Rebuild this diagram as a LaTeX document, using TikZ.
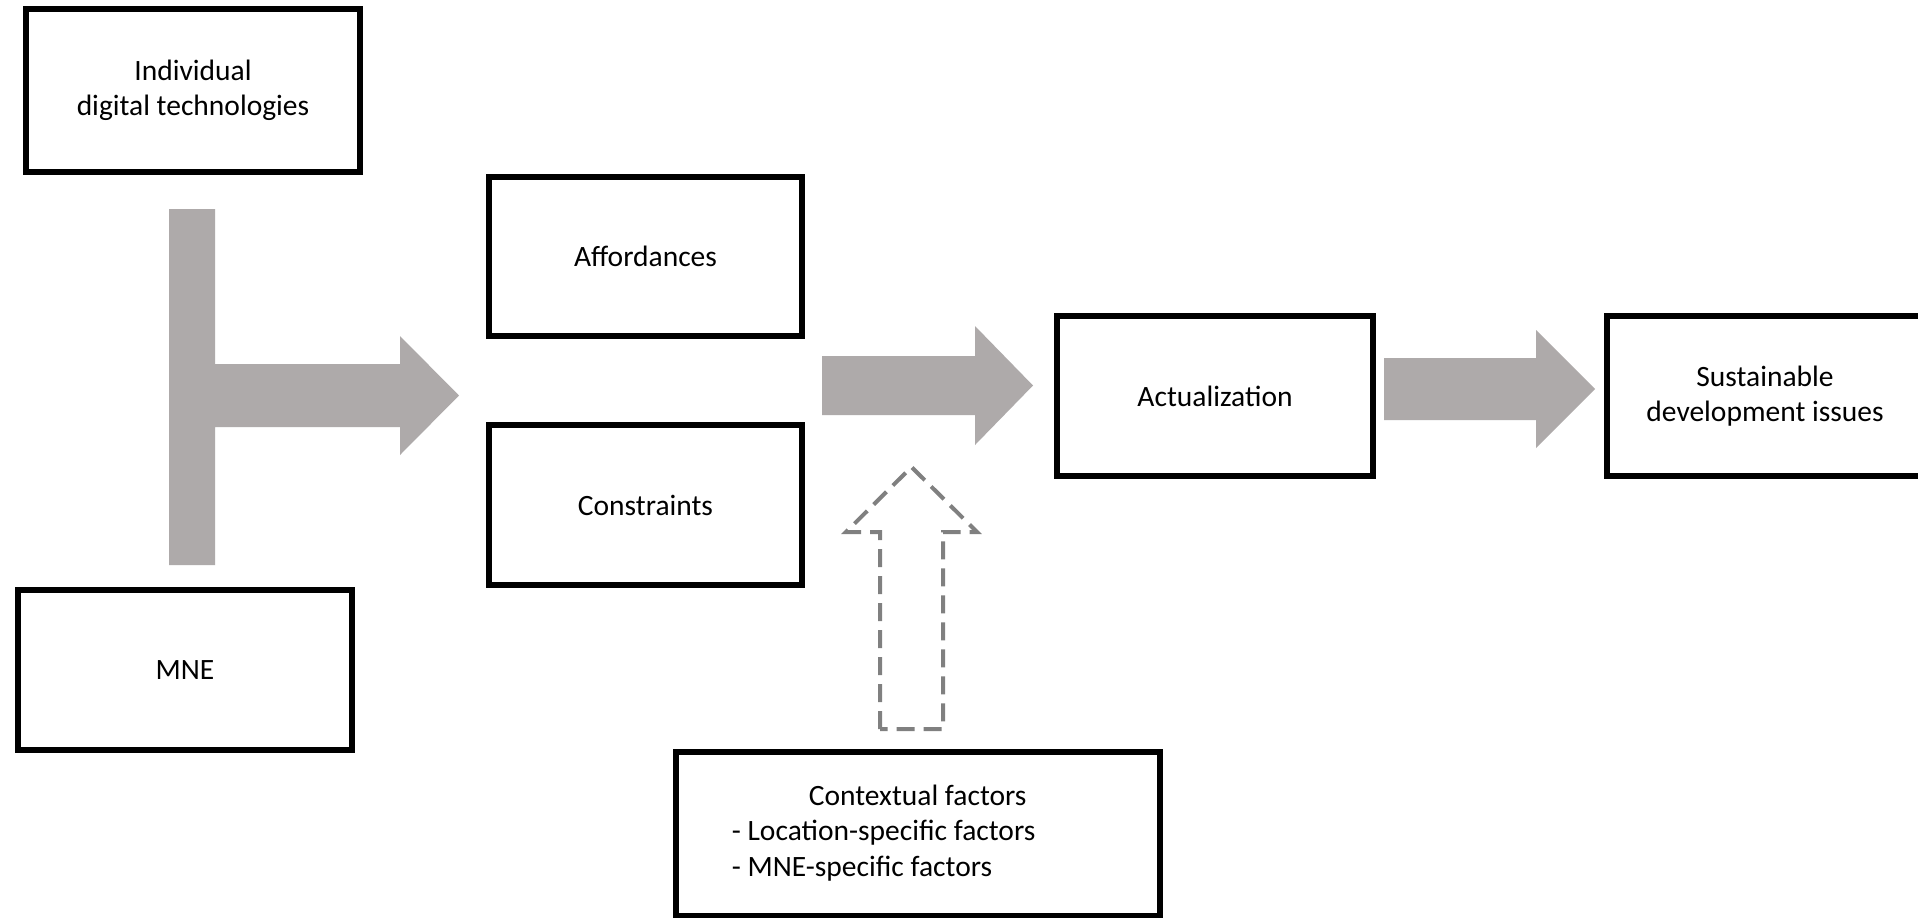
\documentclass[tikz,border=0pt]{standalone}
\usepackage{fontspec}
\setmainfont{Carlito}
\definecolor{blockgray}{RGB}{174,170,170}
\definecolor{dashgray}{RGB}{128,128,128}
\tikzset{
  box/.style={draw=black, line width=3pt, inner sep=0pt, align=center, fill=white},
  blockarrow/.style={fill=blockgray, draw=none},
  dasharrow/.style={draw=dashgray, line width=2pt, dash pattern=on 9pt off 4.5pt, line join=miter},
}
\begin{document}
\begin{tikzpicture}[x=0.5pt, y=-0.5pt, font=\fontsize{14.75}{17.75}\selectfont]
\useasboundingbox (0,0) rectangle (1918,917);
\clip (0,0) rectangle (1918,917);
\fill[white] (0,0) rectangle (1918,917);

% gray block arrows
\path[blockarrow] (169,209) -- (215,209) -- (215,364) -- (400,364) -- (400,336) -- (459,395.5)
  -- (400,455) -- (400,427) -- (215,427) -- (215,565) -- (169,565) -- cycle;
\path[blockarrow] (822,356) -- (975,356) -- (975,326) -- (1033,385.5) -- (975,445) -- (975,415) -- (822,415) -- cycle;
\path[blockarrow] (1384,358) -- (1536,358) -- (1536,330) -- (1595,389) -- (1536,448) -- (1536,420) -- (1384,420) -- cycle;

% dashed arrow
\draw[dasharrow] (880,729) -- (880,532) -- (846,532) -- (911.5,467) -- (977,532) -- (943,532) -- (943,729) -- cycle;

% boxes
\node[box, minimum width=167pt, minimum height=81.5pt] (tech) at (193,90.5) {Individual\\digital technologies};
\node[box, minimum width=167pt, minimum height=80pt] (mne) at (185,670) {MNE};
\node[box, minimum width=156.5pt, minimum height=79.5pt] (aff) at (645.5,256.5) {Affordances};
\node[box, minimum width=156.5pt, minimum height=80pt] (con) at (645.5,505) {Constraints};
\node[box, minimum width=158pt, minimum height=80pt] (act) at (1215,396) {Actualization};
\node[box, minimum width=158pt, minimum height=80pt] (sdi) at (1765,396) {Sustainable\\development issues};
\node[box, minimum width=242pt, minimum height=82pt] (ctx) at (918,834) {};
\node[anchor=west, inner sep=0pt, align=left] (ctxtext) at (731.5,833)
  {\hspace*{38.5pt}Contextual factors\\- Location-specific factors\\- MNE-specific factors};
\end{tikzpicture}
\end{document}
